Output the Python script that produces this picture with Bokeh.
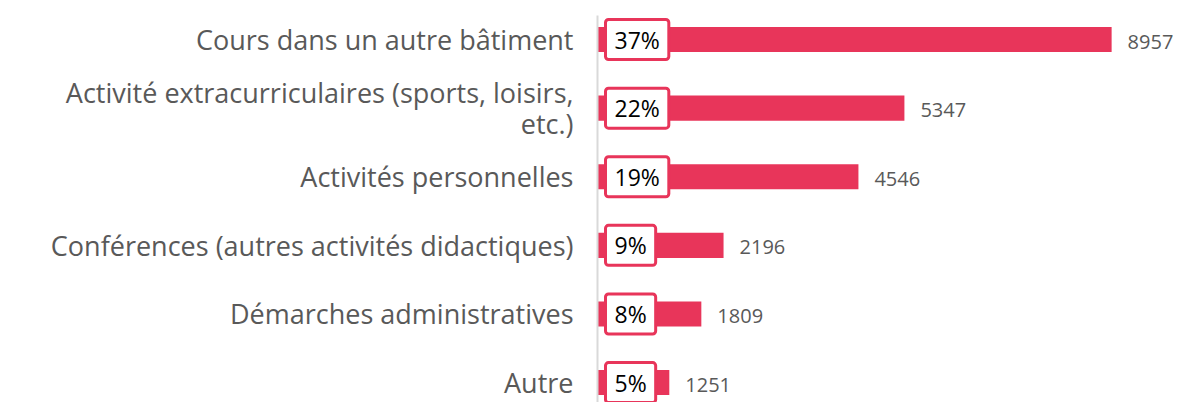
from bokeh.plotting import figure
from bokeh.models import Range1d, FixedTicker, ColumnDataSource
from bokeh.core.properties import value
from bokeh.embed import file_html
from bokeh.resources import INLINE

categories = [
    "Cours dans un autre bâtiment",
    "Activité extracurriculaires (sports, loisirs,\netc.)",
    "Activités personnelles",
    "Conférences (autres activités didactiques)",
    "Démarches administratives",
    "Autre",
]
counts = [8957, 5347, 4546, 2196, 1809, 1251]
percents = ["37%", "22%", "19%", "9%", "8%", "5%"]

RED = "#E8355A"
pos = list(range(len(categories)))

src = ColumnDataSource(dict(
    y=pos, v=counts, pct=percents,
    vlab=[str(c) for c in counts], zero=[0] * len(pos),
))

p = figure(width=1173, height=402, output_backend="svg", toolbar_location=None,
           x_range=Range1d(0, 10035), y_range=Range1d(5.29, -0.35),
           min_border_left=597, min_border_right=0, min_border_top=15,
           min_border_bottom=0)
p.outline_line_color = None
p.grid.grid_line_color = None
p.xaxis.visible = False
p.background_fill_color = "white"

p.hbar(y="y", left=0, right="v", height=0.365, source=src,
       fill_color=RED, line_color=None)

p.text(x="v", y="y", text="vlab", source=src, x_offset=16, y_offset=2,
       text_align="left", text_baseline="middle",
       text_font=value("Open Sans"), text_font_size="20px",
       text_color="#595959")

p.text(x="zero", y="y", text="pct", source=src, x_offset=8,
       text_align="left", text_baseline="middle",
       text_font=value("Open Sans"), text_font_size="23px",
       text_color="#000000",
       background_fill_color="white",
       border_line_color=RED, border_line_width=3,
       padding=dict(left=9, right=9, top=4, bottom=4), border_radius=3)

ya = p.yaxis[0]
ya.ticker = FixedTicker(ticks=pos)
ya.major_label_overrides = {i: c for i, c in enumerate(categories)}
ya.major_tick_line_color = None
ya.minor_tick_line_color = None
ya.axis_line_color = "#D9D9D9"
ya.axis_line_width = 2
ya.major_label_standoff = 18
ya.major_label_text_font = "Open Sans"
ya.major_label_text_font_size = "27px"
ya.major_label_text_color = "#595959"
ya.major_label_text_line_height = 0.85

open("out.html", "w").write(file_html(p, INLINE))
